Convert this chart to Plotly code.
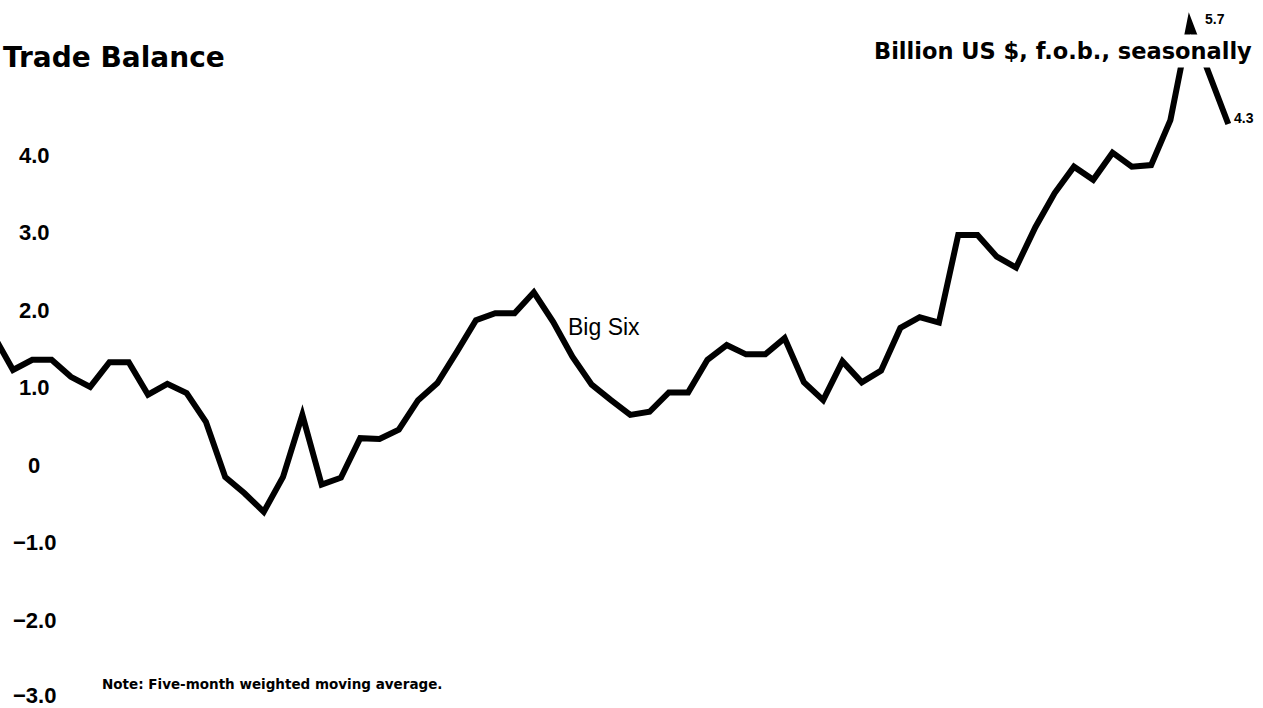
import plotly.graph_objects as go

# Month index (relative) and Big Six trade balance, billion US $
months = list(range(-1, 64))
big_six = [1.67, 1.23, 1.36, 1.36, 1.14, 1.01, 1.33, 1.33, 0.91, 1.05,
           0.93, 0.56, -0.15, -0.36, -0.60, -0.15, 0.65, -0.25, -0.16, 0.35,
           0.34, 0.46, 0.84, 1.06, 1.46, 1.87, 1.96, 1.96, 2.23, 1.85,
           1.40, 1.04, 0.84, 0.65, 0.69, 0.94, 0.94, 1.36, 1.55, 1.43,
           1.43, 1.64, 1.07, 0.84, 1.34, 1.07, 1.22, 1.77, 1.91, 1.84,
           2.97, 2.97, 2.69, 2.55, 3.07, 3.51, 3.85, 3.68, 4.03, 3.85,
           3.87, 4.45, 5.7, 5.05, 4.4]

tick_values = [4.0, 3.0, 2.0, 1.0, 0.0, -1.0, -2.0, -3.0]
tick_labels = ["4.0", "3.0", "2.0", "1.0", "0", "\u22121.0", "\u22122.0", "\u22123.0"]

peak_label = "5.7"
last_label = "4.3"

W, H = 1263, 708

fig = go.Figure()
fig.add_trace(go.Scatter(
    x=months, y=big_six, mode="lines",
    line=dict(color="black", width=6),
    hoverinfo="skip", showlegend=False,
))

tick_font = dict(family="Liberation Sans, Arial, sans-serif", size=22, color="black", weight="bold")
annotations = []
for v, t in zip(tick_values, tick_labels):
    annotations.append(dict(x=34 / W, xref="paper", y=v, yref="y", text=t,
                            showarrow=False, xanchor="center", yanchor="middle",
                            yshift=3 if v == min(tick_values) else 0,
                            font=tick_font))

annotations += [
    dict(x=1 / W, xref="paper", y=1 - 58 / H, yref="paper", text="Trade Balance",
         showarrow=False, xanchor="left", yanchor="middle",
         font=dict(family="DejaVu Sans, sans-serif", size=28, color="black", weight="bold")),
    dict(x=1256 / W, xref="paper", y=1 - 51 / H, yref="paper",
         text="Billion US $, f.o.b., seasonally",
         showarrow=False, xanchor="right", yanchor="middle", bgcolor="white", borderpad=3,
         font=dict(family="DejaVu Sans, sans-serif", size=22.5, color="black", weight="bold")),
    dict(x=566 / W, xref="paper", y=1 - 327 / H, yref="paper", text="Big Six",
         showarrow=False, xanchor="left", yanchor="middle",
         font=dict(family="Liberation Sans, Arial, sans-serif", size=23, color="black")),
    dict(x=100 / W, xref="paper", y=1 - 684 / H, yref="paper",
         text="Note: Five-month weighted moving average.",
         showarrow=False, xanchor="left", yanchor="middle",
         font=dict(family="DejaVu Sans, sans-serif", size=13.5, color="black", weight="bold")),
    dict(x=1203 / W, xref="paper", y=1 - 19 / H, yref="paper", text=peak_label,
         showarrow=False, xanchor="left", yanchor="middle",
         font=dict(family="Liberation Sans, Arial, sans-serif", size=14, color="black", weight="bold")),
    dict(x=1232 / W, xref="paper", y=1 - 118 / H, yref="paper", text=last_label,
         showarrow=False, xanchor="left", yanchor="middle",
         font=dict(family="Liberation Sans, Arial, sans-serif", size=14, color="black", weight="bold")),
]

px_per_month = 19.29
x0 = -13 / px_per_month
x1 = x0 + W / px_per_month
px_per_unit = 77.57
y_top = 465.3 / px_per_unit
y_bot = (465.3 - H) / px_per_unit

fig.update_layout(
    width=W, height=H,
    margin=dict(l=0, r=0, t=0, b=0, pad=0),
    paper_bgcolor="white", plot_bgcolor="white",
    xaxis=dict(range=[x0, x1], visible=False, showgrid=False, zeroline=False),
    yaxis=dict(range=[y_bot, y_top], visible=False, showgrid=False, zeroline=False),
    annotations=annotations,
    showlegend=False,
)

post = (
    "document.body.style.margin='0';document.body.style.overflow='hidden';"
    "document.querySelectorAll('.scatterlayer path.js-line').forEach(function(p){"
    "p.style.strokeMiterlimit='12';p.style.strokeLinejoin='miter';});"
)
fig.write_html("out.html", config={"displayModeBar": False}, post_script=post)
